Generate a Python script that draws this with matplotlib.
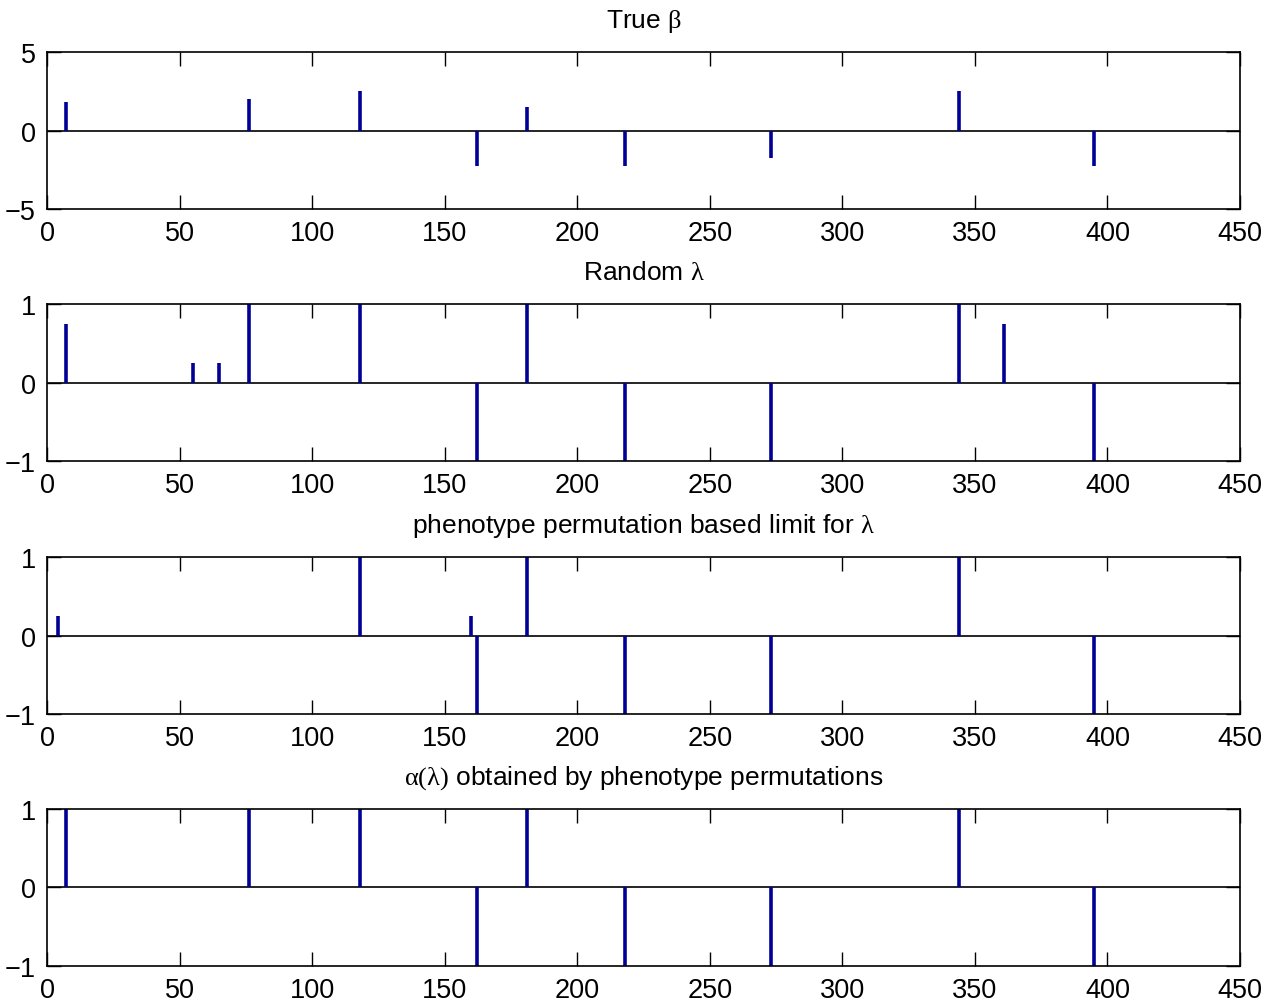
import numpy as np
import matplotlib
matplotlib.use('Agg')
import matplotlib.pyplot as plt

plt.rcParams['font.family'] = ['Liberation Sans', 'DejaVu Sans']
plt.rcParams['mathtext.fontset'] = 'custom'
plt.rcParams['mathtext.rm'] = 'Liberation Serif'
plt.rcParams['mathtext.it'] = 'Liberation Serif'

# Panel data: SNP index and value
beta_pos = [7, 76, 118, 162, 181, 218, 273, 344, 395]
beta_val = [1.8, 2.0, 2.5, -2.25, 1.5, -2.25, -1.75, 2.5, -2.25]

rand_pos = [7, 55, 65, 76, 118, 162, 181, 218, 273, 344, 361, 395]
rand_val = [0.75, 0.25, 0.25, 1, 1, -1, 1, -1, -1, 1, 0.75, -1]

perm_pos = [4, 118, 160, 162, 181, 218, 273, 344, 395]
perm_val = [0.25, 1, 0.25, -1, 1, -1, -1, 1, -1]

alpha_pos = [7, 76, 118, 162, 181, 218, 273, 344, 395]
alpha_val = [1, 1, 1, -1, 1, -1, -1, 1, -1]

titles = [r'True $\mathrm{\beta}$',
          r'Random $\mathrm{\lambda}$',
          r'phenotype permutation based limit for $\mathrm{\lambda}$',
          r'$\mathrm{\alpha(\lambda)}$ obtained by phenotype permutations']
panels = [(beta_pos, beta_val), (rand_pos, rand_val),
          (perm_pos, perm_val), (alpha_pos, alpha_val)]
ylims = [(-5, 5), (-1, 1), (-1, 1), (-1, 1)]
yticks = [[-5, 0, 5], [-1, 0, 1], [-1, 0, 1], [-1, 0, 1]]

fig = plt.figure(figsize=(12.65, 10.04), dpi=100)
bottoms = [0.7908, 0.5398, 0.2878, 0.0369]

for k in range(4):
    ax = fig.add_axes([0.0372, bottoms[k], 0.943, 0.1564])
    pos, val = panels[k]
    ax.axhline(0, color='black', lw=1.2, zorder=1)
    ax.vlines(pos, 0, val, color='#000096', lw=2.6, zorder=2)
    ax.set_xlim(0, 450)
    ax.set_ylim(*ylims[k])
    ax.set_xticks(range(0, 451, 50))
    ax.set_yticks(yticks[k])
    ax.tick_params(direction='in', length=10, width=1, top=True, right=True,
                   labelsize=19.5, pad=8)
    for s in ax.spines.values():
        s.set_linewidth(1.2)
    ax.set_title(titles[k], fontsize=19, pad=18)

fig.savefig('out.png', dpi=100)
